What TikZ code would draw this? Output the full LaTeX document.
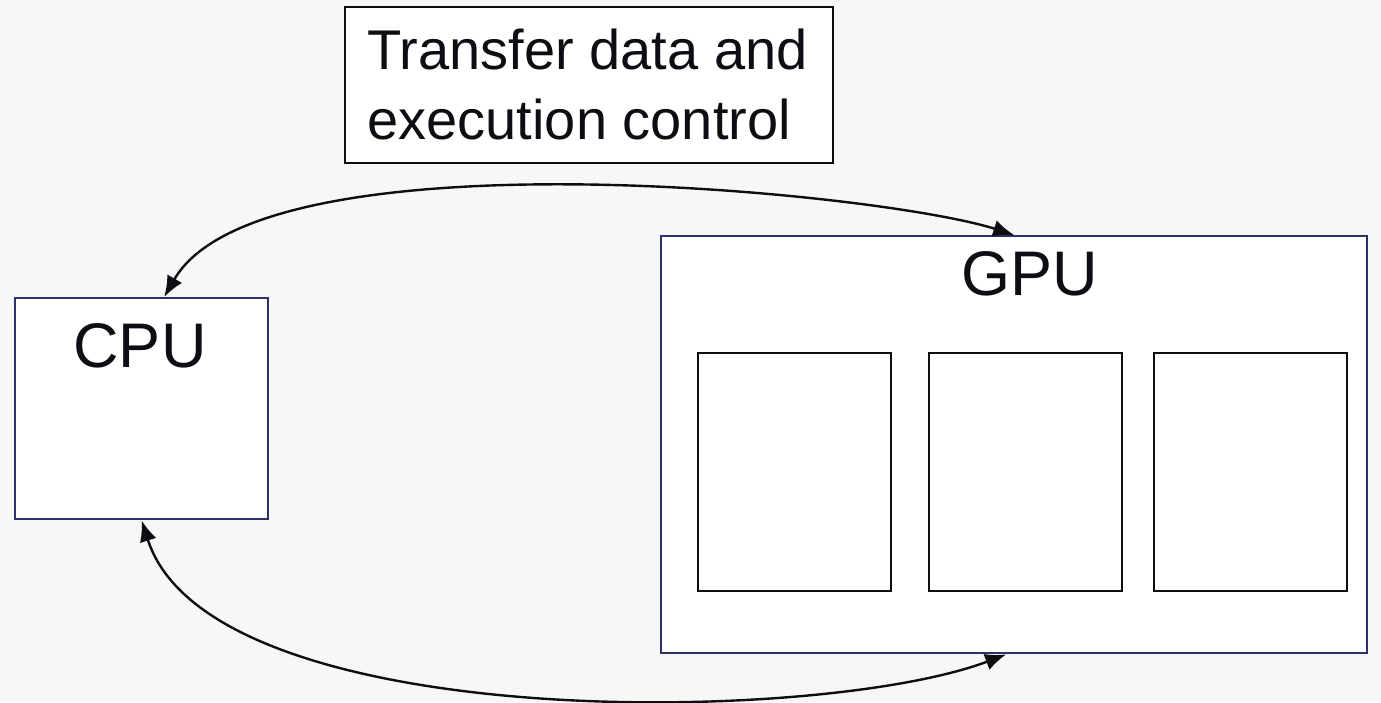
\documentclass[tikz,border=0pt]{standalone}
\usepackage{fontspec}
\setmainfont{Liberation Sans}
\usetikzlibrary{arrows.meta}
\definecolor{bg}{HTML}{F7F7F7}
\definecolor{navy}{HTML}{2E3168}
\definecolor{ink}{HTML}{0D0D14}
\tikzset{
  box/.style={draw=navy, line width=2.4pt, fill=white, inner sep=0pt, anchor=north west},
  inner/.style={draw=ink, line width=2pt, fill=white, inner sep=0pt, anchor=north west, minimum width=193pt, minimum height=238pt},
  tbox/.style={draw=ink, line width=1.8pt, fill=white, anchor=north west, inner sep=0pt, minimum width=488pt, minimum height=156pt},
  big/.style={font=\fontsize{56}{70}\selectfont, text=ink},
  huge/.style={font=\fontsize{63}{70}\selectfont, text=ink, inner sep=0pt, anchor=base},
  link/.style={line width=2.4pt, ink, {Latex[length=21pt,width=17pt]}-{Latex[length=21pt,width=17pt]}}
}
\begin{document}
\begin{tikzpicture}[x=1pt,y=-1pt]
\fill[bg] (0,0) rectangle (1381,702);
\useasboundingbox (0,0) rectangle (1381,702);
\node[tbox] (title) at (344,6) {};
\node[big, align=left, anchor=west] (ttext) at (364,84) {Transfer data and\\execution control};
\node[box, minimum width=253pt, minimum height=221pt] (cpu) at (14,297) {};
\node[box, minimum width=706pt, minimum height=417pt] (gpu) at (660,235) {};
\node[huge] (cpulabel) at (140,367) {CPU};
\node[huge] (gpulabel) at (1030,295) {GPU};
\node[inner] (c1) at (697,352) {};
\node[inner] (c2) at (928,352) {};
\node[inner] (c3) at (1153,352) {};
\draw[link] ([xshift=22.5pt]cpu.north) .. controls (260,130) and (880,192) .. (gpu.north);
\draw[link] (cpu.south) .. controls (210,735) and (820,725) .. ([xshift=-8pt]gpu.south);
\end{tikzpicture}
\end{document}
